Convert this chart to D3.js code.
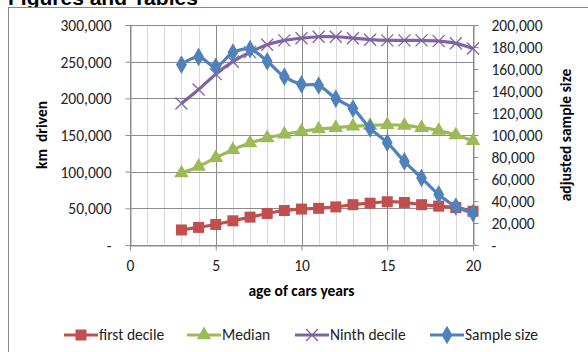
<!DOCTYPE html>
<html><head><meta charset="utf-8">
<script src="https://cdn.jsdelivr.net/npm/d3@7"></script>
<style>body{margin:0;background:#fff;overflow:hidden}svg{display:block}</style>
</head><body><svg id="c" width="588" height="352"></svg>
<script>
const ages = [3,4,5,6,7,8,9,10,11,12,13,14,15,16,17,18,19,20];
const firstDecile = [20500,24000,28000,33000,38000,43000,47000,49000,50000,52000,55000,57000,59000,58000,55000,53000,51000,46000];
const median = [98000,107000,119000,130000,139000,146000,151000,155000,158000,160000,162000,163000,164000,163000,160000,156000,150000,142000];
const ninthDecile = [193000,212000,233000,250000,263000,273000,279000,282000,284000,284000,282000,280000,279000,279000,279000,278000,275000,268000];
const sampleSize = [164000,171000,162000,175000,178000,167000,153000,146000,145000,133000,124000,106000,93000,76000,61000,46000,35000,29000];
const leftTicks = [0,50000,100000,150000,200000,250000,300000];
const rightTicks = [0,20000,40000,60000,80000,100000,120000,140000,160000,180000,200000];
const xTicks = [0,5,10,15,20];
const seriesNames = ["first decile","Median","Ninth decile","Sample size"];
const colors = ["#C0504D","#9BBB59","#8064A2","#4F81BD"];

const svg = d3.select("#c");
const font = "Carlito, Lato, 'Open Sans', sans-serif";
const L=130, R=473, T=25, B=245;
const x = d3.scaleLinear().domain([0,20]).range([L,R]);
const yL = d3.scaleLinear().domain([0,300000]).range([B,T]);
const yR = d3.scaleLinear().domain([0,200000]).range([B,T]);
const fmt = v => v===0 ? "-" : d3.format(",")(v);

// title (clipped at top, as in the reference)
svg.append("text").attr("x",8).attr("y",5).attr("font-family","'Liberation Sans', Arial, sans-serif")
  .attr("font-weight","bold").attr("font-size",21).attr("fill","#000").text("Figures and Tables");
// chart border
svg.append("rect").attr("x",8.5).attr("y",7.5).attr("width",600).attr("height",400)
  .attr("fill","#fff").attr("stroke","#888").attr("stroke-width",1);

// grid
const g = svg.append("g");
g.selectAll(".vmin").data(d3.range(0,21).filter(d=>d%5!==0)).join("line")
  .attr("x1",d=>Math.round(x(d))+0.5).attr("x2",d=>Math.round(x(d))+0.5).attr("y1",T).attr("y2",B)
  .attr("stroke","#d9d9d9").attr("stroke-width",1);
g.selectAll(".vmaj").data(xTicks).join("line")
  .attr("x1",d=>Math.round(x(d))+0.5).attr("x2",d=>Math.round(x(d))+0.5).attr("y1",T).attr("y2",B)
  .attr("stroke","#8c8c8c").attr("stroke-width",1);
g.selectAll(".h").data(leftTicks).join("line")
  .attr("x1",L).attr("x2",R).attr("y1",d=>Math.round(yL(d))+0.5).attr("y2",d=>Math.round(yL(d))+0.5)
  .attr("stroke","#8c8c8c").attr("stroke-width",1);

// axes
const axL = d3.axisLeft(yL).tickValues(leftTicks).tickFormat(fmt).tickSize(5).tickPadding(14);
const gl = svg.append("g").attr("transform",`translate(${L+0.5},0)`).call(axL);
const axR = d3.axisRight(yR).tickValues(rightTicks).tickFormat(fmt).tickSize(5).tickPadding(13);
const gr = svg.append("g").attr("transform",`translate(${R+0.5},0)`).call(axR);
const axB = d3.axisBottom(x).tickValues(xTicks).tickSize(5).tickPadding(15);
const gb = svg.append("g").attr("transform",`translate(0,${B+0.5})`).call(axB);
[gl,gr,gb].forEach(a=>{
  a.selectAll("path").attr("stroke","#8c8c8c");
  a.selectAll("line").attr("stroke","#8c8c8c");
  a.selectAll("text").attr("font-family",font).attr("font-size",15.5).attr("fill","#222").attr("dy","0.35em");
});

// axis titles
svg.append("text").attr("transform",`translate(47,${(T+B)/2}) rotate(-90)`).attr("text-anchor","middle")
  .attr("font-family",font).attr("font-weight","bold").attr("font-size",15.5).attr("xml:space","preserve").text("km  driven");
svg.append("text").attr("transform",`translate(571,${(T+B)/2}) rotate(-90)`).attr("text-anchor","middle")
  .attr("font-family",font).attr("font-weight","bold").attr("font-size",15.5).text("adjusted sample size");
svg.append("text").attr("x",(L+R)/2).attr("y",296).attr("text-anchor","middle")
  .attr("font-family",font).attr("font-weight","bold").attr("font-size",15.5).text("age of cars years");

// marker shapes
function marker(sel, type, color, size){
  if(type===0){ sel.append("rect").attr("x",-size/2).attr("y",-size/2).attr("width",size).attr("height",size).attr("fill",color); }
  else if(type===1){ sel.append("path").attr("d",d3.symbol(d3.symbolTriangle, size*size*0.55)()).attr("fill",color); }
  else if(type===2){ const s=size/2; sel.append("path").attr("d",`M${-s},${-s}L${s},${s}M${-s},${s}L${s},${-s}`).attr("stroke",color).attr("stroke-width",1.3).attr("fill","none"); }
  else { sel.append("path").attr("d",d3.symbol(d3.symbolDiamond, size*size*0.6)()).attr("fill",color); }
}
const sizes=[11,13,12,13];
const series=[
  {v:firstDecile,y:yL},{v:median,y:yL},{v:ninthDecile,y:yL},{v:sampleSize,y:yR}
];
const line = d3.line().curve(d3.curveCatmullRom.alpha(0.5));
series.forEach((s,i)=>{
  const pts = ages.map((a,j)=>[x(a), s.y(s.v[j])]);
  svg.append("path").attr("d",line(pts)).attr("fill","none").attr("stroke",colors[i]).attr("stroke-width",3.2);
  pts.forEach(p=>{ marker(svg.append("g").attr("transform",`translate(${p[0]},${p[1]})`), i, colors[i], sizes[i]); });
});

// legend
const legX=[64,187,295,430];
seriesNames.forEach((n,i)=>{
  const lg = svg.append("g").attr("transform",`translate(${legX[i]},335)`);
  lg.append("line").attr("x1",0).attr("x2",34).attr("y1",0).attr("y2",0).attr("stroke",colors[i]).attr("stroke-width",3.2);
  marker(lg.append("g").attr("transform","translate(17,0)"), i, colors[i], sizes[i]);
  lg.append("text").attr("x",35).attr("y",0).attr("dy","0.35em").attr("font-family",font).attr("font-size",15.5).attr("fill","#222").text(n);
});
</script></body></html>
